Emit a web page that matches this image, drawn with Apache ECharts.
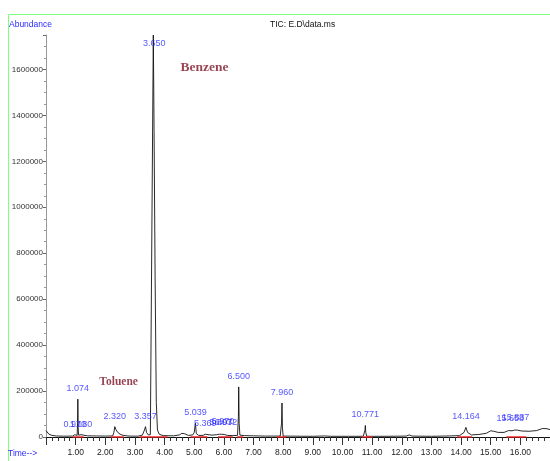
<!DOCTYPE html>
<html>
<head>
<meta charset="utf-8">
<script src="https://cdn.jsdelivr.net/npm/echarts@6/dist/echarts.min.js"></script>
<style>html,body{margin:0;padding:0;background:#fff}#c{width:550px;height:461px}</style>
</head>
<body>
<div id="c"></div>
<script>
// Chromatogram trace (retention time in min, abundance)
const traceTime = [0.00,0.03,0.10,0.20,0.35,0.60,0.90,0.95,0.97,0.99,1.05,1.065,1.074,1.085,1.10,1.15,1.18,1.22,1.40,1.70,2.00,2.25,2.29,2.32,2.36,2.42,2.50,2.60,2.80,3.10,3.25,3.32,3.357,3.39,3.45,3.52,3.58,3.62,3.645,3.68,3.72,3.76,3.82,3.95,4.30,4.50,4.58,4.68,4.80,4.95,5.00,5.039,5.07,5.15,5.30,5.369,5.42,5.60,5.75,5.85,5.893,5.93,5.97,6.01,6.072,6.12,6.30,6.46,6.49,6.50,6.515,6.54,6.70,7.00,7.40,7.90,7.945,7.96,7.975,8.00,8.40,9.00,9.40,9.60,10.20,10.70,10.76,10.771,10.785,10.82,11.50,12.15,12.25,12.35,13.00,13.60,13.95,14.10,14.164,14.22,14.35,14.60,14.85,15.00,15.10,15.25,15.45,15.60,15.658,15.72,15.80,15.837,15.90,16.05,16.30,16.55,16.75,16.90,17.00];
const traceAbund = [28000,22000,12000,7000,4500,3500,4000,7000,10000,6000,7000,60000,165000,40000,8000,7000,10000,6000,5000,4500,4000,4500,20000,45000,32000,20000,12000,7000,4000,3500,8000,30000,45000,20000,9000,10000,18000,1750000,1330000,700000,150000,30000,12000,6000,5000,9000,16000,14000,7000,9000,20000,60000,15000,7000,7000,12000,6000,8000,10000,12000,18000,12000,20000,11000,18000,7000,6000,7000,90000,218000,60000,8000,6000,5000,4000,4000,60000,148000,40000,4000,3500,3000,4500,3000,3000,3000,30000,50000,20000,3000,3000,4000,9000,4000,3000,4500,6000,20000,42000,20000,9000,11000,16000,27000,25000,20000,20000,28000,35000,27000,30000,38000,30000,26000,25000,28000,37000,36000,32000];

// Labelled peaks
const peakTimes = [0.970,1.074,1.180,2.320,3.357,3.650,5.039,5.369,5.893,5.970,6.072,6.500,7.960,10.771,14.164,15.658,15.837];
const peakHeights = [10000,165000,10000,45000,45000,1750000,60000,12000,18000,20000,18000,218000,148000,50000,42000,35000,38000];

// Integration baselines (start, end in min)
const segStart = [0.90,2.18,3.16,3.69,4.87,5.80,6.45,7.78,10.65,13.87,15.53];
const segEnd   = [1.27,2.62,3.69,4.10,5.44,6.30,6.65,8.10,11.00,14.37,16.20];

// Compound annotations
const annoText = ['Toluene','Benzene'];
const annoTime = [2.45,5.35];
const annoAbund = [240000,1608000];

const yMax = 1750000;
const sans = "'Liberation Sans',Arial,sans-serif";
const blue = '#2b2bff';

const chart = echarts.init(document.getElementById('c'), null, {renderer:'canvas'});

const tracePts = traceTime.map((t,i)=>[t,traceAbund[i]]);
const peakPts = peakTimes.map((t,i)=>{
  const h = Math.min(peakHeights[i], yMax);
  const clipped = peakHeights[i] >= yMax;
  return {
    value:[t,h],
    label:{show:true, position: clipped ? 'bottom' : 'top', distance: clipped ? 4 : 6,
      formatter: t.toFixed(3)}
  };
});

chart.setOption({
  animation:false,
  backgroundColor:'#fff',
  title:[
    {text:'TIC: E.D\\data.ms', left:270, top:20, padding:0, textStyle:{fontFamily:sans, fontSize:8.5, fontWeight:'normal', color:'#111'}},
    {text:'Abundance', left:9, top:20, padding:0, textStyle:{fontFamily:sans, fontSize:8.5, fontWeight:'normal', color:blue}},
    {text:'Time-->', left:8, top:449, padding:0, textStyle:{fontFamily:sans, fontSize:8.5, fontWeight:'normal', color:blue}}
  ],
  graphic:[
    {type:'rect', shape:{x:8.5, y:14.5, width:600, height:500}, style:{fill:'none', stroke:'#80ff80', lineWidth:1}, silent:true, z:-1}
  ],
  grid:{left:46, right:0, top:35, bottom:24, containLabel:false},
  xAxis:{
    type:'value', min:0, max:17, interval:1,
    axisLine:{show:true, onZero:false, lineStyle:{color:'#111', width:1}},
    axisTick:{show:true, inside:false, length:8, lineStyle:{color:'#333'}},
    minorTick:{show:true, splitNumber:5, length:4, lineStyle:{color:'#333'}},
    splitLine:{show:false},
    axisLabel:{show:true, margin:11, showMinLabel:false, showMaxLabel:false,
      fontFamily:sans, fontSize:8.5, color:'#222', formatter:v=>v.toFixed(2)}
  },
  yAxis:{
    type:'value', min:0, max:yMax, interval:200000,
    axisLine:{show:true, lineStyle:{color:'#999', width:1}},
    axisTick:{show:true, length:3, lineStyle:{color:'#666'}},
    minorTick:{show:true, splitNumber:4, length:2, lineStyle:{color:'#999'}},
    splitLine:{show:false},
    axisLabel:{show:true, margin:3, showMaxLabel:false, fontFamily:sans, fontSize:8, color:'#333',
      formatter:v=>String(v)}
  },
  series:[
    {
      type:'line', data:tracePts, showSymbol:false, symbol:'none',
      lineStyle:{color:'#111', width:0.9}, clip:true, z:3
    },
    {
      type:'lines', coordinateSystem:'cartesian2d', polyline:false,
      data: segStart.map((s,i)=>({coords:[[s,0],[segEnd[i],0]]})),
      lineStyle:{color:'#ff2020', width:1.6, opacity:1}, z:4
    },
    {
      type:'scatter', data:peakPts, symbolSize:0, silent:true, z:5,
      label:{color:blue, fontFamily:sans, fontSize:9}
    },
    {
      type:'scatter', silent:true, symbolSize:0, z:5,
      data: annoText.map((s,i)=>({value:[annoTime[i],annoAbund[i]], label:{formatter:s, fontSize: i===0 ? 11.5 : 13.5}})),
      label:{show:true, position:'inside', color:'#7d1426', fontFamily:"'Liberation Serif','Times New Roman',serif",
        fontWeight:'bold'}
    }
  ]
});
</script>
</body>
</html>
